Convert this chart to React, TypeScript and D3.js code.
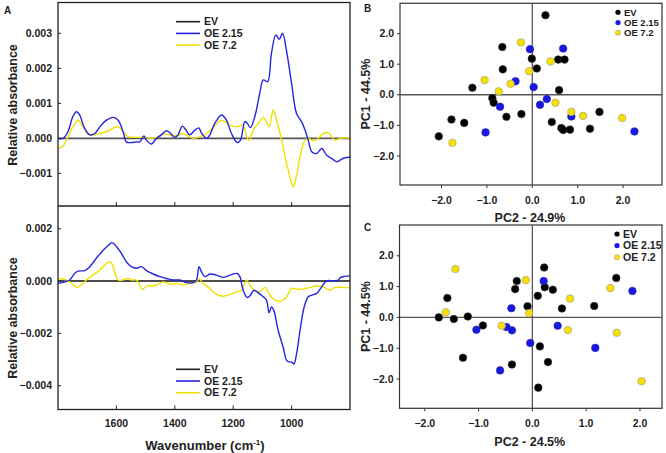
import React from "react";
import * as d3 from "d3";

// ---------- Panel A data (wavenumber, relative absorbance) ----------
const topBlueWn = [1800,1783,1766,1749,1737,1726,1709,1691,1674,1657,1634,1611,1594,1577,1566,1549,1531,1520,1506,1497,1480,1463,1446,1429,1417,1400,1389,1374,1362,1349,1331,1318,1309,1291,1280,1263,1240,1223,1206,1186,1175,1160,1152,1141,1126,1109,1097,1082,1069,1054,1042,1031,1017,1000,983,966,954,943,931,914,897,880,863,846,834,820,800];
const topBlueVal = [0,0,0.00019,0.00062,0.00076,0.00067,0.00029,0.0001,0.00014,0.00033,0.00052,0.0006,0.00052,0.00019,-0.0001,-0.00012,-0.0001,-0.0001,0.00007,-0.00005,-0.00016,0,0.0001,0.00022,0.00016,0.00003,0.0001,0.00035,0.00024,0.0001,0.00024,0.0003,0.00016,0,0.0001,0.00043,0.00067,0.00052,0.00014,-0.00012,-0.00005,0.00048,0.00043,0.00031,0.00062,0.00129,0.00167,0.00162,0.00243,0.00295,0.00283,0.003,0.00248,0.00157,0.00071,0.00048,0.00024,-0.00005,-0.00038,-0.00043,-0.00029,-0.00048,-0.00057,-0.00067,-0.00062,-0.00056,-0.00054];

const topYellowWn = [1800,1783,1766,1749,1731,1714,1697,1674,1657,1634,1611,1594,1577,1560,1537,1509,1480,1463,1440,1417,1394,1374,1354,1337,1314,1291,1269,1240,1211,1189,1166,1154,1145,1131,1114,1097,1086,1077,1063,1051,1034,1017,1003,994,985,971,957,943,926,909,891,874,863,851,834,820,800];
const topYellowVal = [-0.00029,-0.00022,0.00005,0.00033,0.00052,0.00033,0.00012,0.0001,0.00014,0.00019,0.00029,0.00033,0.00019,0.00005,0.00003,0.00003,0,0.00003,0.00012,0.0001,0.00007,0.00014,0.00007,0,0.00005,0.00014,0.00031,0.00052,0.00038,0.00033,0.00038,0.00005,-0.00005,0.00024,0.00043,0.0006,0.00048,0.00033,0.00081,0.00052,-0.00005,-0.00071,-0.00119,-0.00138,-0.00114,-0.00052,-0.0001,0,-0.00007,0,0.00014,0.00016,0.00005,-0.00005,0,0.00002,0.00001];

const botBlueWn = [1800,1777,1760,1743,1731,1709,1691,1669,1646,1629,1615,1600,1583,1566,1549,1531,1514,1497,1474,1451,1429,1406,1383,1360,1337,1326,1317,1309,1297,1280,1257,1234,1211,1186,1177,1166,1152,1141,1129,1114,1097,1086,1077,1069,1061,1046,1029,1015,1000,992,983,971,957,943,931,914,897,880,857,840,832,820,800];
const botBlueVal = [-0.00009,-0.00003,0.00004,0.00029,0.00038,0.0004,0.00055,0.00087,0.00117,0.00135,0.00147,0.00132,0.00106,0.00074,0.00055,0.00049,0.00055,0.0004,0.00027,0.00017,0.0001,0.00004,0.00004,-0.00006,-0.00006,0.00004,0.00055,0.00036,0.00017,0.00027,0.00023,0.00014,0.00023,0.00029,0.00017,-0.00035,-0.00063,-0.00054,-0.00035,-0.00045,-0.0006,-0.00073,-0.00121,-0.00099,-0.00112,-0.00188,-0.00253,-0.00306,-0.0031,-0.00317,-0.00278,-0.00188,-0.00099,-0.0006,-0.00054,-0.00047,-0.00022,0.00001,0.00001,0.00004,0.00014,0.00018,0.0002];

const botYellowWn = [1800,1777,1760,1737,1720,1703,1680,1657,1640,1623,1615,1606,1594,1577,1560,1549,1531,1511,1497,1480,1463,1440,1417,1394,1371,1349,1326,1318,1303,1280,1257,1234,1211,1189,1171,1154,1143,1126,1109,1091,1074,1057,1034,1017,1000,977,949,920,891,869,851,834,820,800];
const botYellowVal = [0.0001,0.00006,-0.00003,-0.00024,-0.00015,0.00004,0.00023,0.00042,0.00062,0.00074,0.00065,0.00036,0.00004,0.00004,0.0001,0.00004,0.00004,-0.00032,-0.00019,-0.00019,-0.00015,-0.00003,-0.00012,-0.00009,-0.00015,-0.00009,-0.00003,0.0001,-0.00009,-0.00028,-0.00051,-0.00058,-0.00051,-0.00041,-0.00035,0.00004,-0.00015,-0.00037,-0.00041,-0.00024,-0.00054,-0.00073,-0.00076,-0.0006,-0.00028,-0.00032,-0.00028,-0.00019,-0.00022,-0.00035,-0.00024,-0.00024,-0.00025,-0.00025];

const wnTicks = [1600, 1400, 1200, 1000];
const topYTicks = [0.003, 0.002, 0.001, 0, -0.001];
const botYTicks = [0.002, 0, -0.002, -0.004];
const seriesNames = ["EV", "OE 2.15", "OE 7.2"];

// ---------- Panel B data (PC2, PC1) ----------
const bEVx = [0.29,-0.66,-0.01,0.10,-0.65,0.57,0.71,-1.32,0.59,-0.88,-0.85,-0.57,-0.24,-1.78,-1.50,-2.06,0.43,0.64,0.68,0.83,1.27,1.48];
const bEVy = [2.60,1.56,1.18,0.86,0.83,1.15,1.15,0.23,0.15,-0.11,-0.26,-0.72,-0.63,-0.81,-0.92,-1.36,-0.89,-1.09,-1.15,-1.14,-1.11,-0.56];
const bOE215x = [-0.05,0.68,-0.37,0.03,-0.71,0.32,0.17,0.86,-1.03,2.25];
const bOE215y = [1.49,1.51,0.44,0.25,-0.39,-0.14,-0.33,-0.71,-1.23,-1.20];
const bOE72x = [-0.25,0.40,-0.07,-1.05,-0.48,-0.74,0.51,0.86,1.12,1.98,-1.76];
const bOE72y = [1.71,1.09,0.77,0.48,0.36,0.11,-0.26,-0.56,-0.69,-0.76,-1.57];

// ---------- Panel C data (PC2, PC1) ----------
const cEVx = [0.22,-0.29,-0.32,0.23,0.38,0.10,1.56,1.15,0.55,-0.09,-1.58,-1.74,-1.46,-1.20,-0.92,0.14,0.29,-0.38,-1.29,0.11];
const cEVy = [1.62,1.18,0.92,0.98,0.90,0.70,1.28,0.37,0.29,0.36,0.63,0.00,-0.05,0.03,-0.26,-0.94,-1.45,-1.53,-1.31,-2.28];
const cOE215x = [0.21,1.86,-0.39,-1.04,-0.48,-0.38,0.47,-0.04,1.17,-0.60];
const cOE215y = [1.18,0.86,0.30,-0.40,-0.31,-0.42,-0.27,-0.83,-0.99,-1.72];
const cOE72x = [-1.43,-0.12,1.45,0.70,-1.61,-0.06,-0.57,0.66,1.57,2.03];
const cOE72y = [1.57,1.21,0.95,0.61,0.17,0.14,-0.27,-0.41,-0.50,-2.07];

const pcTicks = [-2, -1, 0, 1, 2];

const FONT = "'Liberation Sans', Arial, sans-serif";
const BLUE_LINE = "#2424e4";
const YELLOW_LINE = "#f0e000";
const BLUE_DOT = "#1818e6";
const YELLOW_DOT = "#f8e000";

function zip(xs: number[], ys: number[]) {
  return xs.map((x, i) => [x, ys[i]] as [number, number]);
}

const x0 = 58, x1 = 350;
const xWn = d3.scaleLinear().domain([1800, 800]).range([x0, x1]);

function SpectrumPanel(props: {
  id: string; top: number; bottom: number; domain: [number, number];
  ticks: number[]; blue: [number, number][]; yellow: [number, number][];
  zeroColor: string; zeroWidth: number; legendY: number; tickFmt: (v: number) => string;
}) {
  const { id, top, bottom, domain, ticks, blue, yellow, zeroColor, zeroWidth, legendY } = props;
  const y = d3.scaleLinear().domain(domain).range([bottom, top]);
  const line = d3.line<[number, number]>().x(d => xWn(d[0])).y(d => y(d[1])).curve(d3.curveCatmullRom.alpha(0.5));
  const legendItems = [
    { name: seriesNames[0], color: "#222" },
    { name: seriesNames[1], color: BLUE_LINE },
    { name: seriesNames[2], color: YELLOW_LINE },
  ];
  return (
    <g>
      <defs>
        <clipPath id={id}><rect x={x0} y={top} width={x1 - x0} height={bottom - top} /></clipPath>
      </defs>
      <g clipPath={`url(#${id})`}>
        <line x1={x0} x2={x1} y1={y(0)} y2={y(0)} stroke={zeroColor} strokeWidth={zeroWidth} />
        <path d={line(yellow) || ""} fill="none" stroke={YELLOW_LINE} strokeWidth={1.4} />
        <path d={line(blue) || ""} fill="none" stroke={BLUE_LINE} strokeWidth={1.4} />
      </g>
      {ticks.map(t => (
        <g key={t}>
          <line x1={x0} x2={x0 + 3} y1={y(t)} y2={y(t)} stroke="#222" strokeWidth={1} />
          <text x={x0 - 6} y={y(t)} dy="0.35em" textAnchor="end" fontFamily={FONT} fontWeight="bold" fontSize={10.5} fill="#222">{props.tickFmt(t)}</text>
        </g>
      ))}
      {wnTicks.map(t => (
        <line key={t} x1={xWn(t)} x2={xWn(t)} y1={bottom} y2={bottom - 4} stroke="#222" strokeWidth={1} />
      ))}
      {legendItems.map((it, i) => (
        <g key={it.name}>
          <line x1={176} x2={200} y1={legendY + i * 11.7} y2={legendY + i * 11.7} stroke={it.color} strokeWidth={1.6} />
          <text x={204} y={legendY + i * 11.7} dy="0.35em" fontFamily={FONT} fontWeight="bold" fontSize={10.5} fill="#222">{it.name}</text>
        </g>
      ))}
    </g>
  );
}

function PCAPanel(props: {
  left: number; right: number; top: number; bottom: number;
  xDom: [number, number]; yDom: [number, number];
  ev: [number, number][]; oe215: [number, number][]; oe72: [number, number][];
  xTitle: string; legendX: number; legendY: number; legendGap: number; legendFont: number;
}) {
  const { left, right, top, bottom, xDom, yDom, ev, oe215, oe72, legendX, legendY, legendGap } = props;
  const x = d3.scaleLinear().domain(xDom).range([left, right]);
  const y = d3.scaleLinear().domain(yDom).range([bottom, top]);
  const fmt = d3.format(".1f");
  const legend = [
    { name: seriesNames[0], color: "#000", stroke: "none" },
    { name: seriesNames[1], color: BLUE_DOT, stroke: "none" },
    { name: seriesNames[2], color: YELLOW_DOT, stroke: "#999" },
  ];
  const dots = (pts: [number, number][], fill: string, stroke: string) =>
    pts.map((p, i) => <circle key={i} cx={x(p[0])} cy={y(p[1])} r={3.8} fill={fill} stroke={stroke} strokeWidth={0.6} />);
  return (
    <g>
      <rect x={left} y={top} width={right - left} height={bottom - top} fill="white" stroke="#333" strokeWidth={1.2} />
      <line x1={left} x2={right} y1={y(0)} y2={y(0)} stroke="#555" strokeWidth={1.3} />
      <line x1={x(0)} x2={x(0)} y1={top} y2={bottom} stroke="#555" strokeWidth={1.3} />
      {pcTicks.map(t => (
        <g key={"y" + t}>
          <line x1={left - 3} x2={left} y1={y(t)} y2={y(t)} stroke="#333" />
          <text x={left - 6} y={y(t)} dy="0.35em" textAnchor="end" fontFamily={FONT} fontWeight="bold" fontSize={10.5} fill="#222">{fmt(t)}</text>
        </g>
      ))}
      {pcTicks.map(t => (
        <g key={"x" + t}>
          <line x1={x(t)} x2={x(t)} y1={bottom} y2={bottom + 3} stroke="#333" />
          <text x={x(t)} y={bottom + 15} dy="0.35em" textAnchor="middle" fontFamily={FONT} fontWeight="bold" fontSize={10.5} fill="#222">{fmt(t)}</text>
        </g>
      ))}
      {dots(ev, "#000", "#333")}
      {dots(oe215, BLUE_DOT, "#2a2a90")}
      {dots(oe72, YELLOW_DOT, "#999")}
      {legend.map((it, i) => (
        <g key={it.name}>
          <circle cx={legendX} cy={legendY + i * legendGap} r={2.6} fill={it.color} stroke={it.stroke} strokeWidth={0.5} />
          <text x={legendX + 6} y={legendY + i * legendGap} dy="0.35em" fontFamily={FONT} fontWeight="bold" fontSize={props.legendFont} fill="#222">{it.name}</text>
        </g>
      ))}
      <text x={(left + right) / 2 - 1} y={bottom + 33} dy="0.35em" textAnchor="middle" fontFamily={FONT} fontWeight="bold" fontSize={12.5} fill="#222">{props.xTitle}</text>
      <text transform={`translate(${366},${(top + bottom) / 2}) rotate(-90)`} dy="0.35em" textAnchor="middle" fontFamily={FONT} fontWeight="bold" fontSize={12.5} fill="#222">PC1 - 44.5%</text>
    </g>
  );
}

export default function App() {
  const tickFmt = d3.format(".3f");
  return (
    <svg width={666} height={453} style={{ position: "absolute", left: 0, top: 0, background: "white" }}>
      <rect x={0} y={0} width={666} height={453} fill="white" />
      {/* Panel A */}
      <SpectrumPanel id="clipTop" top={2.5} bottom={206} domain={[-0.00193, 0.00388]} ticks={topYTicks}
        blue={zip(topBlueWn, topBlueVal)} yellow={zip(topYellowWn, topYellowVal)}
        zeroColor="#555" zeroWidth={1.8} legendY={21.7} tickFmt={tickFmt} />
      <SpectrumPanel id="clipBot" top={206} bottom={409.5} domain={[-0.00491, 0.00287]} ticks={botYTicks}
        blue={zip(botBlueWn, botBlueVal)} yellow={zip(botYellowWn, botYellowVal)}
        zeroColor="#111" zeroWidth={1.4} legendY={369.3} tickFmt={tickFmt} />
      <rect x={x0} y={2.5} width={x1 - x0} height={407} fill="none" stroke="#222" strokeWidth={1.3} />
      <line x1={x0} x2={x1} y1={206} y2={206} stroke="#222" strokeWidth={1.3} />
      {wnTicks.map(t => (
        <text key={t} x={xWn(t)} y={423} dy="0.35em" textAnchor="middle" fontFamily={FONT} fontWeight="bold" fontSize={10.5} fill="#222">{t}</text>
      ))}
      <text x={205} y={445} dy="0.35em" textAnchor="middle" fontFamily={FONT} fontWeight="bold" fontSize={13} fill="#222">
        Wavenumber (cm<tspan dy="-5" fontSize={8}>-1</tspan><tspan dy="5">)</tspan>
      </text>
      <text transform="translate(13,105) rotate(-90)" dy="0.35em" textAnchor="middle" fontFamily={FONT} fontWeight="bold" fontSize={12.5} fill="#222">Relative absorbance</text>
      <text transform="translate(13,318) rotate(-90)" dy="0.35em" textAnchor="middle" fontFamily={FONT} fontWeight="bold" fontSize={12.5} fill="#222">Relative absorbance</text>
      <text x={4} y={10} dy="0.35em" fontFamily={FONT} fontWeight="bold" fontSize={10} fill="#222">A</text>
      <text x={364} y={8} dy="0.35em" fontFamily={FONT} fontWeight="bold" fontSize={10} fill="#222">B</text>
      <text x={364} y={227} dy="0.35em" fontFamily={FONT} fontWeight="bold" fontSize={10} fill="#222">C</text>
      {/* Panel B */}
      <PCAPanel left={400} right={662} top={3.3} bottom={185} xDom={[-2.914, 2.857]} yDom={[-2.95, 2.99]}
        ev={zip(bEVx, bEVy)} oe215={zip(bOE215x, bOE215y)} oe72={zip(bOE72x, bOE72y)}
        xTitle="PC2 - 24.9%" legendX={618} legendY={12.3} legendGap={10.2} legendFont={9.5} />
      {/* Panel C */}
      <PCAPanel left={399.5} right={662} top={225} bottom={408.3} xDom={[-2.47, 2.41]} yDom={[-2.95, 3.0]}
        ev={zip(cEVx, cEVy)} oe215={zip(cOE215x, cOE215y)} oe72={zip(cOE72x, cOE72y)}
        xTitle="PC2 - 24.5%" legendX={617} legendY={234} legendGap={11.6} legendFont={10.5} />
    </svg>
  );
}
